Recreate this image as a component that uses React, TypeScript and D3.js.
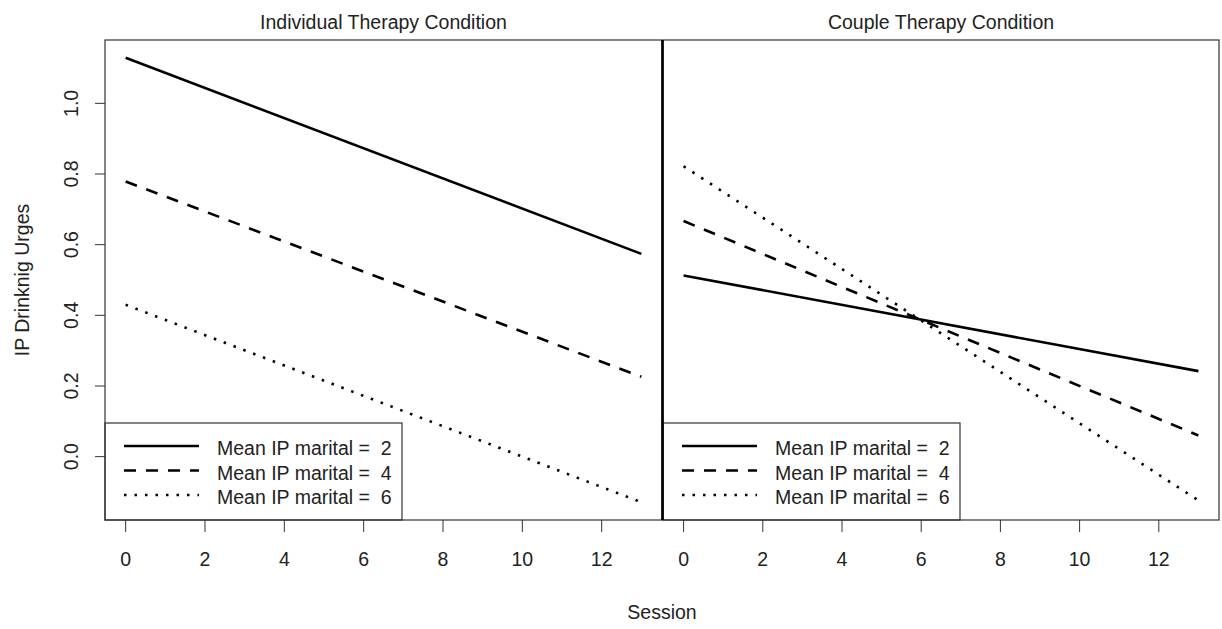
import * as d3 from 'd3'

// sessions at which the fitted lines are evaluated
const sessions = [0, 13]
const maritalLevels = [2, 4, 6]

// Individual therapy condition
const individualM2 = [1.129, 0.574]
const individualM4 = [0.779, 0.226]
const individualM6 = [0.43, -0.129]

// Couple therapy condition
const coupleM2 = [0.513, 0.242]
const coupleM4 = [0.667, 0.06]
const coupleM6 = [0.822, -0.124]

const xTicks = [0, 2, 4, 6, 8, 10, 12]
const yTicks = [0, 0.2, 0.4, 0.6, 0.8, 1.0]

const panelTitles = ['Individual Therapy Condition', 'Couple Therapy Condition']
const yLabel = 'IP Drinknig Urges'
const xLabel = 'Session'

const font = '"Liberation Sans", Arial, sans-serif'
const textColor = '#222'
const dashes = ['none', '12,10', '2.5,8']

const width = 1222
const height = 629
const top = 40
const bottom = 520
const panels = [
  { left: 105, right: 662, series: [individualM2, individualM4, individualM6] },
  { left: 663, right: 1219, series: [coupleM2, coupleM4, coupleM6] }
]

// R style 4% padding on the ranges
const pad = (lo: number, hi: number) => {
  const p = (hi - lo) * 0.04
  return [lo - p, hi + p]
}

const allValues = [individualM2, individualM4, individualM6, coupleM2, coupleM4, coupleM6].flat()

const y = d3.scaleLinear()
  .domain(pad(d3.min(allValues), d3.max(allValues)))
  .range([bottom, top])

const App = () => {
  return (
    <svg width={width} height={height} style={{ position: 'absolute', left: 0, top: 0, background: '#fff' }}
      fontFamily={font}>
      {panels.map((panel, pi) => {
        const x = d3.scaleLinear()
          .domain(pad(d3.min(sessions), d3.max(sessions)))
          .range([panel.left, panel.right])
        const line = d3.line<number>()
          .x((d, i) => x(sessions[i]))
          .y(d => y(d))
        const legendTop = 423
        return (
          <g key={pi}>
            <text x={(panel.left + panel.right) / 2} y={28.5} textAnchor='middle'
              fontSize={19.5} fill={textColor}>{panelTitles[pi]}</text>

            {panel.series.map((s, si) => (
              <path key={si} d={line(s)} fill='none' stroke='#000' strokeWidth={2.6}
                strokeDasharray={dashes[si]} />
            ))}

            {/* x axis ticks */}
            {xTicks.map(t => (
              <g key={t}>
                <line x1={x(t)} x2={x(t)} y1={bottom} y2={bottom + 12} stroke='#333' strokeWidth={1} />
                <text x={x(t)} y={566} textAnchor='middle' fontSize={19.5} fill={textColor}>{t}</text>
              </g>
            ))}

            {/* legend */}
            <rect x={panel.left} y={legendTop} width={297} height={bottom - legendTop}
              fill='#fff' stroke='#333' strokeWidth={1.2} />
            {maritalLevels.map((m, i) => {
              const ly = 446 + i * 24.5
              return (
                <g key={m}>
                  <line x1={panel.left + 19} x2={panel.left + 94} y1={ly} y2={ly}
                    stroke='#000' strokeWidth={2.6} strokeDasharray={dashes[i]} />
                  <text x={panel.left + 112} y={ly + 9} fontSize={19.5} fill={textColor}
                    style={{ whiteSpace: 'pre' }}>{`Mean IP marital =  ${m}`}</text>
                </g>
              )
            })}

            <rect x={panel.left} y={top} width={panel.right - panel.left} height={bottom - top}
              fill='none' stroke='#333' strokeWidth={1.2} />
          </g>
        )
      })}

      {/* divider between the panels */}
      <line x1={662.5} x2={662.5} y1={top} y2={bottom} stroke='#000' strokeWidth={2.5} />

      {/* y axis on the left panel */}
      {yTicks.map(t => (
        <g key={t}>
          <line x1={95} x2={105} y1={y(t)} y2={y(t)} stroke='#333' strokeWidth={1} />
          <text transform={`translate(77.5,${y(t)}) rotate(-90)`} textAnchor='middle'
            fontSize={19.5} fill={textColor}>{t.toFixed(1)}</text>
        </g>
      ))}

      <text transform={`translate(28.5,${(top + bottom) / 2}) rotate(-90)`} textAnchor='middle'
        fontSize={19.5} fill={textColor}>{yLabel}</text>
      <text x={(105 + 1219) / 2} y={619} textAnchor='middle' fontSize={19.5} fill={textColor}>{xLabel}</text>
    </svg>
  )
}

export default App
